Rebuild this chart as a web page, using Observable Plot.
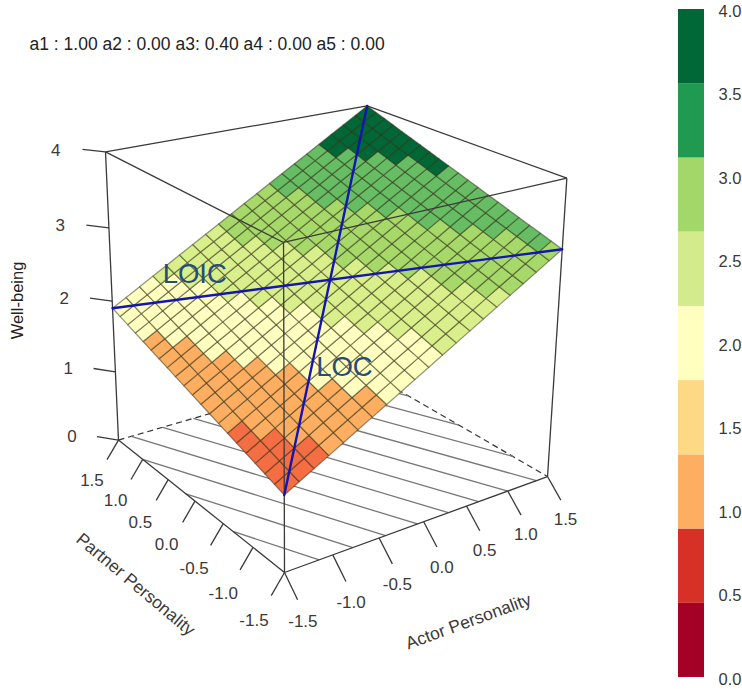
<!DOCTYPE html>
<html>
<head>
<meta charset="utf-8">
<style>
  html, body { margin: 0; padding: 0; background: #fff; }
  #chart { display: flex; width: 742px; height: 689px; }
  #chart svg { display: block; background: #fff; }
</style>
<script src="https://cdn.jsdelivr.net/npm/d3@7"></script>
<script src="https://cdn.jsdelivr.net/npm/@observablehq/plot@0.6"></script>
</head>
<body>
<div id="chart"></div>
<script>
// ---------- values ----------
const annotation = "a1 : 1.00 a2 : 0.00 a3: 0.40 a4 : 0.00 a5 : 0.00";

const actorGrid = [-1.5,-1.35,-1.2,-1.05,-0.9,-0.75,-0.6,-0.45,-0.3,-0.15,0,0.15,0.3,0.45,0.6,0.75,0.9,1.05,1.2,1.35,1.5];
const partnerGrid = [-1.5,-1.35,-1.2,-1.05,-0.9,-0.75,-0.6,-0.45,-0.3,-0.15,0,0.15,0.3,0.45,0.6,0.75,0.9,1.05,1.2,1.35,1.5];

// well-being heights: one row per partner value, one column per actor value
const wellBeing = [
[1,1.105,1.21,1.315,1.42,1.525,1.63,1.735,1.84,1.945,2.05,2.155,2.26,2.365,2.47,2.575,2.68,2.785,2.89,2.995,3.1],
[1.045,1.15,1.255,1.36,1.465,1.57,1.675,1.78,1.885,1.99,2.095,2.2,2.305,2.41,2.515,2.62,2.725,2.83,2.935,3.04,3.145],
[1.09,1.195,1.3,1.405,1.51,1.615,1.72,1.825,1.93,2.035,2.14,2.245,2.35,2.455,2.56,2.665,2.77,2.875,2.98,3.085,3.19],
[1.135,1.24,1.345,1.45,1.555,1.66,1.765,1.87,1.975,2.08,2.185,2.29,2.395,2.5,2.605,2.71,2.815,2.92,3.025,3.13,3.235],
[1.18,1.285,1.39,1.495,1.6,1.705,1.81,1.915,2.02,2.125,2.23,2.335,2.44,2.545,2.65,2.755,2.86,2.965,3.07,3.175,3.28],
[1.225,1.33,1.435,1.54,1.645,1.75,1.855,1.96,2.065,2.17,2.275,2.38,2.485,2.59,2.695,2.8,2.905,3.01,3.115,3.22,3.325],
[1.27,1.375,1.48,1.585,1.69,1.795,1.9,2.005,2.11,2.215,2.32,2.425,2.53,2.635,2.74,2.845,2.95,3.055,3.16,3.265,3.37],
[1.315,1.42,1.525,1.63,1.735,1.84,1.945,2.05,2.155,2.26,2.365,2.47,2.575,2.68,2.785,2.89,2.995,3.1,3.205,3.31,3.415],
[1.36,1.465,1.57,1.675,1.78,1.885,1.99,2.095,2.2,2.305,2.41,2.515,2.62,2.725,2.83,2.935,3.04,3.145,3.25,3.355,3.46],
[1.405,1.51,1.615,1.72,1.825,1.93,2.035,2.14,2.245,2.35,2.455,2.56,2.665,2.77,2.875,2.98,3.085,3.19,3.295,3.4,3.505],
[1.45,1.555,1.66,1.765,1.87,1.975,2.08,2.185,2.29,2.395,2.5,2.605,2.71,2.815,2.92,3.025,3.13,3.235,3.34,3.445,3.55],
[1.495,1.6,1.705,1.81,1.915,2.02,2.125,2.23,2.335,2.44,2.545,2.65,2.755,2.86,2.965,3.07,3.175,3.28,3.385,3.49,3.595],
[1.54,1.645,1.75,1.855,1.96,2.065,2.17,2.275,2.38,2.485,2.59,2.695,2.8,2.905,3.01,3.115,3.22,3.325,3.43,3.535,3.64],
[1.585,1.69,1.795,1.9,2.005,2.11,2.215,2.32,2.425,2.53,2.635,2.74,2.845,2.95,3.055,3.16,3.265,3.37,3.475,3.58,3.685],
[1.63,1.735,1.84,1.945,2.05,2.155,2.26,2.365,2.47,2.575,2.68,2.785,2.89,2.995,3.1,3.205,3.31,3.415,3.52,3.625,3.73],
[1.675,1.78,1.885,1.99,2.095,2.2,2.305,2.41,2.515,2.62,2.725,2.83,2.935,3.04,3.145,3.25,3.355,3.46,3.565,3.67,3.775],
[1.72,1.825,1.93,2.035,2.14,2.245,2.35,2.455,2.56,2.665,2.77,2.875,2.98,3.085,3.19,3.295,3.4,3.505,3.61,3.715,3.82],
[1.765,1.87,1.975,2.08,2.185,2.29,2.395,2.5,2.605,2.71,2.815,2.92,3.025,3.13,3.235,3.34,3.445,3.55,3.655,3.76,3.865],
[1.81,1.915,2.02,2.125,2.23,2.335,2.44,2.545,2.65,2.755,2.86,2.965,3.07,3.175,3.28,3.385,3.49,3.595,3.7,3.805,3.91],
[1.855,1.96,2.065,2.17,2.275,2.38,2.485,2.59,2.695,2.8,2.905,3.01,3.115,3.22,3.325,3.43,3.535,3.64,3.745,3.85,3.955],
[1.9,2.005,2.11,2.215,2.32,2.425,2.53,2.635,2.74,2.845,2.95,3.055,3.16,3.265,3.37,3.475,3.58,3.685,3.79,3.895,4]
];

const surfaceBreaks = [0.889,1.333,1.778,2.222,2.667,3.111,3.556];
const surfaceColors = ["#d73027","#f46d43","#fdae61","#ffffbf","#d9ef8b","#a6d96a","#66bd63","#006837"];

const legendBreaks = [0,0.444,0.889,1.333,1.778,2.222,2.667,3.111,3.556,4];
const legendColors = ["#a50026","#d73027","#fdae61","#fdd985","#ffffbf","#d3eb8c","#a2d869","#1f9a50","#006837"];
const legendTicks = [0,0.5,1,1.5,2,2.5,3,3.5,4];

// floor contours: level, then the two (actor, partner) ends
const contourLevels  = [1.25,1.5,1.75,2,2.25,2.5,2.75,3,3.25,3.5,3.75];
const contourActorA  = [-1.5,-1.5,-1.5,-1.357,-1,-0.643,-0.286,0.071,0.429,0.786,1.143];
const contourPartnerA= [-0.667,0.167,1,1.5,1.5,1.5,1.5,1.5,1.5,1.5,1.5];
const contourActorB  = [-1.143,-0.786,-0.429,-0.071,0.286,0.643,1,1.357,1.5,1.5,1.5];
const contourPartnerB= [-1.5,-1.5,-1.5,-1.5,-1.5,-1.5,-1.5,-1.5,-1,-0.167,0.667];

const actorTicks = [-1.5,-1,-0.5,0,0.5,1,1.5];
const partnerTicks = [-1.5,-1,-0.5,0,0.5,1,1.5];
const heightTicks = [0,1,2,3,4];

const locLine  = [[-1.5,-1.5,1],[1.5,1.5,4]];
const loicLine = [[-1.5,1.5,1.9],[1.5,-1.5,3.1]];
const surfaceLabels = [
  {text:"LOIC", actor:-0.78, partner:1.16, height:2.31},
  {text:"LOC",  actor:-0.47, partner:-0.9, height:1.915}
];

// ---------- view of the cube: homogeneous camera ----------
const camX = [284, 330.7, -145.9, -23.6];
const camY = [572, -37.1, -57.5, -349.4];
const camW = [1, 0.1237, 0.1705, -0.08];
function project(a, p, h) {
  const u = (a + 1.5) / 3, v = (p + 1.5) / 3, w = h / 4;
  const dot = c => c[0] + c[1]*u + c[2]*v + c[3]*w;
  const W = dot(camW);
  return [dot(camX) / W, dot(camY) / W];
}
const px = d => project(d[0], d[1], d[2])[0];
const py = d => project(d[0], d[1], d[2])[1];

// facets of the surface, each a closed ring of projected vertices
const facetRings = [];
for (let j = 0; j < partnerGrid.length - 1; j++) {
  for (let i = 0; i < actorGrid.length - 1; i++) {
    const corners = [[i,j],[i+1,j],[i+1,j+1],[i,j+1],[i,j]];
    const mean = d3.mean(corners.slice(0,4), ([c,r]) => wellBeing[r][c]);
    for (const [c,r] of corners) {
      facetRings.push({id: j*100+i, mean, at: [actorGrid[c], partnerGrid[r], wellBeing[r][c]]});
    }
  }
}

const contours = contourLevels.map((level,k) => ({
  level,
  a: [contourActorA[k], contourPartnerA[k], 0],
  b: [contourActorB[k], contourPartnerB[k], 0]
}));

const edge = (a,b) => ({a,b});
const lo = -1.5, hi = 1.5;
const backFloorEdges = [edge([lo,hi,0],[hi,hi,0]), edge([hi,hi,0],[hi,lo,0])];
const frontEdges = [
  edge([lo,lo,0],[hi,lo,0]), edge([lo,lo,0],[lo,hi,0]),
  edge([lo,hi,0],[lo,hi,4]), edge([hi,lo,0],[hi,lo,4]),
  edge([lo,hi,4],[hi,hi,4]), edge([hi,hi,4],[hi,lo,4]),
  edge([lo,hi,4],[lo,lo,4]), edge([lo,lo,4],[hi,lo,4]),
  edge([lo,lo,0],[lo,lo,4])
];

const link = (data, opts) => Plot.link(data, {
  x1: d => px(d.a), y1: d => py(d.a), x2: d => px(d.b), y2: d => py(d.b), ...opts
});
const ink = "#3a3a3a";
const font = "'Liberation Sans', Arial, sans-serif";
const tickFmt = d => d3.format(".1f")(d).replace("\u2212","-");

const main = Plot.plot({
  width: 660, height: 689, margin: 0,
  style: {fontFamily: font, background: "#fff"},
  x: {domain: [0,660], range: [0,660], axis: null},
  y: {domain: [0,689], range: [0,689], axis: null},
  color: {type: "threshold", domain: surfaceBreaks, range: surfaceColors},
  marks: [
    // floor
    link(backFloorEdges, {stroke: "#333", strokeWidth: 1.2, strokeDasharray: "6,4"}),
    link(contours, {stroke: "#777", strokeWidth: 1.3}),
    // surface
    Plot.line(facetRings, {
      x: d => px(d.at), y: d => py(d.at), z: "id", fill: "mean",
      stroke: "#2e2e14", strokeOpacity: 0.5, strokeWidth: 1.25, curve: "linear"
    }),
    // box on top of the surface
    link(frontEdges, {stroke: ink, strokeWidth: 1.3}),
    // lines of congruence and incongruence
    Plot.line(locLine,  {x: px, y: py, stroke: "#1414b4", strokeWidth: 2.4}),
    Plot.line(loicLine, {x: px, y: py, stroke: "#1414b4", strokeWidth: 2.4}),
    Plot.text(surfaceLabels, {
      text: "text",
      x: d => px([d.actor,d.partner,d.height]), y: d => py([d.actor,d.partner,d.height]),
      fill: "#274b7d", fontSize: 27.5
    }),
    // height axis
    link(heightTicks.map(h => edge([lo,hi,h],[lo-0.14,hi+0.19,h])), {stroke: ink, strokeWidth: 1.3}),
    Plot.text(heightTicks, {
      text: d => String(d),
      x: d => px([lo-0.3,hi+0.42,d]), y: d => py([lo-0.3,hi+0.42,d]), dy: 4,
      fill: ink, fontSize: 17
    }),
    // actor axis
    link(actorTicks.map(a => edge([a,lo,0],[a,lo-0.2,-0.22])), {stroke: ink, strokeWidth: 1.3}),
    Plot.text(actorTicks, {
      text: tickFmt,
      x: d => px([d,lo-0.28,-0.45]), y: d => py([d,lo-0.28,-0.45]),
      fill: ink, fontSize: 17
    }),
    // partner axis
    link(partnerTicks.map(p => edge([lo,p,0],[lo-0.135,p,-0.24])), {stroke: ink, strokeWidth: 1.3}),
    Plot.text(partnerTicks, {
      text: tickFmt,
      x: d => px([lo-0.31,d,-0.48]), y: d => py([lo-0.31,d,-0.48]),
      fill: ink, fontSize: 17
    }),
    // titles
    Plot.text(["Well-being"], {frameAnchor:"top-left", lineAnchor:"middle", dx:17, dy:300, rotate:-90, fill:"#222", fontSize:16.5, textAnchor:"middle"}),
    Plot.text(["Partner Personality"], {frameAnchor:"top-left", lineAnchor:"middle", dx:135, dy:584, rotate:40, fill:ink, fontSize:17.5, textAnchor:"middle"}),
    Plot.text(["Actor Personality"], {frameAnchor:"top-left", lineAnchor:"middle", dx:468, dy:621, rotate:-20, fill:ink, fontSize:17.5, textAnchor:"middle"}),
    Plot.text([annotation], {frameAnchor:"top-left", lineAnchor:"middle", dx:29, dy:44, fill:"#222", fontSize:17.5, textAnchor:"start"})
  ]
});

const legendBands = legendColors.map((color,k) => ({y1: legendBreaks[k], y2: legendBreaks[k+1], color}));
const legend = Plot.plot({
  width: 82, height: 689,
  marginTop: 9, marginBottom: 12, marginLeft: 18, marginRight: 38,
  style: {fontFamily: font, background: "#fff"},
  x: {axis: null},
  y: {domain: [0,4], axis: null},
  color: {type: "identity"},
  marks: [
    Plot.rect(legendBands, {y1: "y1", y2: "y2", fill: "color"}),
    Plot.axisY(legendTicks, {
      anchor: "right", tickSize: 0, tickPadding: 14, label: null,
      tickFormat: d3.format(".1f"), fontSize: 16.5, fill: ink, dy: 2
    })
  ]
});

document.getElementById("chart").append(main, legend);
</script>
</body>
</html>
